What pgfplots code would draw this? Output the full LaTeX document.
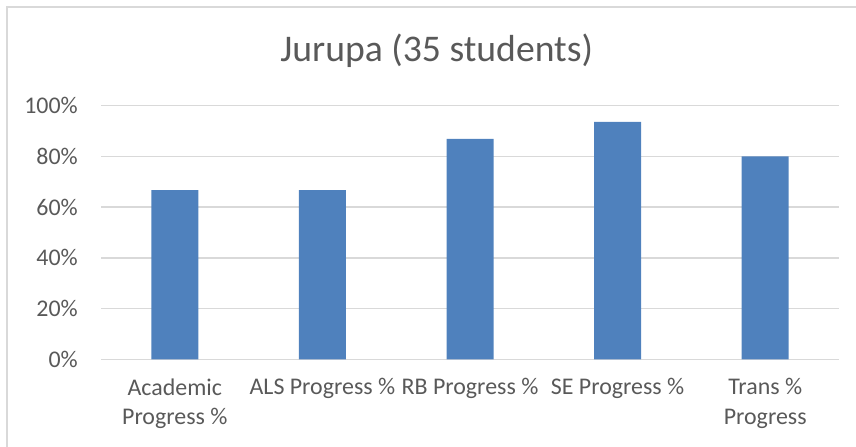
\documentclass[border=0pt]{standalone}
\usepackage{fontspec}
\setmainfont{Carlito}
\usepackage{pgfplots}
\pgfplotsset{compat=1.18}
\definecolor{barblue}{HTML}{4F81BD}
\definecolor{gridgray}{HTML}{D9D9D9}
\definecolor{txtgray}{HTML}{595959}
\begin{document}
\begin{tikzpicture}[x=1bp,y=1bp]
\path[use as bounding box] (0,0) rectangle (856,447);
\draw[gridgray, line width=1.5bp] (7,0) -- (7,440) -- (856,440);
\node[anchor=base, text=txtgray, font=\fontsize{37.8}{45}\selectfont, inner sep=0pt] at (436.7,385.3) {Jurupa (35 students)};
\begin{axis}[at={(101bp,87.7bp)}, anchor=south west,
  width=738bp, height=253.6bp, scale only axis,
  xmin=-0.5, xmax=4.5, ymin=0, ymax=100,
  axis line style={draw=none},
  major tick length=0pt,
  ymajorgrids, grid style={gridgray, line width=1.5bp},
  ytick={0,20,40,60,80,100},
  yticklabels={0\%,20\%,40\%,60\%,80\%,100\%},
  xtick={0,1,2,3,4},
  xticklabels={Academic\\Progress \%, ALS Progress \%, RB Progress \%, SE Progress \%, Trans \%\\Progress},
  ticklabel style={font=\fontsize{24}{29.5}\selectfont, text=txtgray},
  xticklabel style={align=center, anchor=north, inner sep=0pt, yshift=-19bp},
  yticklabel style={anchor=east, inner sep=0pt, xshift=-23bp},
  clip=false,
]
\addplot[ybar, bar width=47bp, fill=barblue, draw=none] coordinates {(0,66.7) (1,66.7) (2,86.9) (3,93.6) (4,80)};
\end{axis}
\end{tikzpicture}
\end{document}
